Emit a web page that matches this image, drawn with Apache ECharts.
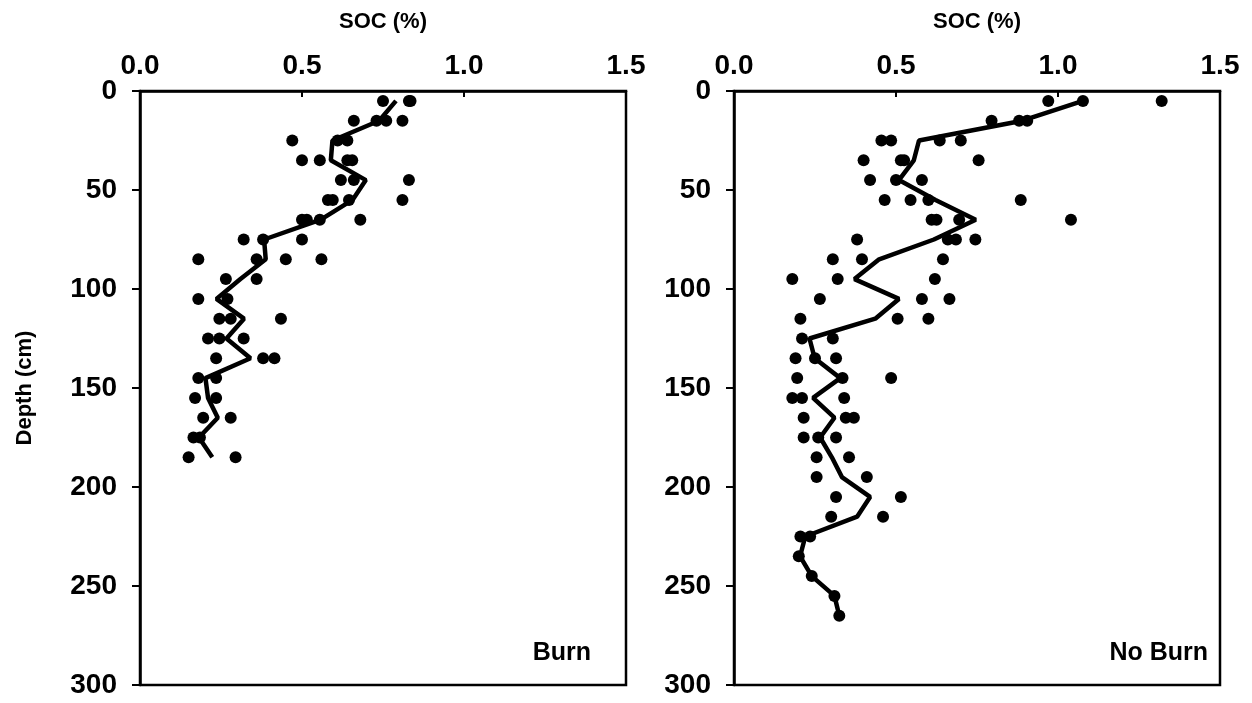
<!DOCTYPE html>
<html>
<head>
<meta charset="utf-8">
<script src="https://cdn.jsdelivr.net/npm/echarts@6/dist/echarts.min.js"></script>
<style>
  html, body { margin: 0; padding: 0; background: #fff; }
  #chart { width: 1252px; height: 703px; }
</style>
</head>
<body>
<div id="chart"></div>
<script>
// Sampling depths (cm) for the burned profile
const burnDepths = [5, 15, 25, 35, 45, 55, 65, 75, 85, 95, 105, 115, 125, 135, 145, 155, 165, 175, 185];
// Individual SOC (%) samples at each burned depth
const burnSoc = [
  [0.75, 0.83, 0.835],
  [0.66, 0.73, 0.76, 0.81],
  [0.47, 0.61, 0.64],
  [0.50, 0.555, 0.64, 0.655],
  [0.62, 0.66, 0.83],
  [0.58, 0.595, 0.645, 0.81],
  [0.50, 0.515, 0.555, 0.68],
  [0.32, 0.38, 0.50],
  [0.18, 0.36, 0.45, 0.56],
  [0.265, 0.36],
  [0.18, 0.27],
  [0.245, 0.28, 0.435],
  [0.21, 0.245, 0.32],
  [0.235, 0.38, 0.415],
  [0.18, 0.235],
  [0.17, 0.235],
  [0.195, 0.28],
  [0.165, 0.185],
  [0.15, 0.295]
];
// Mean SOC (%) profile for the burned site
const burnMean = [0.79, 0.738, 0.594, 0.589, 0.697, 0.656, 0.558, 0.383, 0.388, 0.31,
  0.236, 0.321, 0.267, 0.341, 0.202, 0.21, 0.24, 0.182, 0.223];

// Sampling depths (cm) for the unburned profile
const noBurnDepths = [5, 15, 25, 35, 45, 55, 65, 75, 85, 95, 105, 115, 125, 135, 145, 155,
  165, 175, 185, 195, 205, 215, 225, 235, 245, 255, 265];
// Individual SOC (%) samples at each unburned depth
const noBurnSoc = [
  [0.97, 1.077, 1.32],
  [0.795, 0.88, 0.905],
  [0.455, 0.485, 0.635, 0.70],
  [0.40, 0.515, 0.525, 0.755],
  [0.42, 0.50, 0.58],
  [0.465, 0.545, 0.60, 0.885],
  [0.61, 0.625, 0.695, 1.04],
  [0.38, 0.66, 0.685, 0.745],
  [0.305, 0.395, 0.645],
  [0.18, 0.32, 0.62],
  [0.265, 0.58, 0.665],
  [0.205, 0.505, 0.60],
  [0.21, 0.305],
  [0.19, 0.25, 0.315],
  [0.195, 0.335, 0.485],
  [0.18, 0.21, 0.34],
  [0.215, 0.345, 0.37],
  [0.215, 0.26, 0.315],
  [0.255, 0.355],
  [0.255, 0.41],
  [0.315, 0.515],
  [0.30, 0.46],
  [0.205, 0.235],
  [0.20],
  [0.24],
  [0.31],
  [0.325]
];
// Mean SOC (%) profile for the unburned site
const noBurnMean = [1.077, 0.89, 0.571, 0.555, 0.509, 0.622, 0.746, 0.617, 0.448, 0.372,
  0.509, 0.436, 0.233, 0.249, 0.328, 0.244, 0.31, 0.266, 0.302, 0.333, 0.42, 0.38,
  0.22, 0.204, 0.24, 0.31, 0.325];

const panelLabels = ['Burn', 'No Burn'];
const xTitle = 'SOC (%)';
const yTitle = 'Depth (cm)';

const FONT = '"Liberation Sans", Arial, sans-serif';

function samplePoints(depths, soc) {
  const pts = [];
  depths.forEach((d, i) => soc[i].forEach(v => pts.push([v, d])));
  return pts;
}
function meanPoints(depths, mean) {
  return depths.map((d, i) => [mean[i], d]);
}

const grids = [
  { left: 140, top: 91, width: 486, height: 594 },
  { left: 734, top: 91, width: 486, height: 594 }
];

function xAxisFor(idx) {
  return {
    type: 'value', gridIndex: idx, position: 'top',
    min: 0, max: 1.5, interval: 0.5,
    name: xTitle, nameLocation: 'middle', nameGap: 58,
    nameTextStyle: { fontFamily: FONT, fontWeight: 'bold', fontSize: 22, color: '#000' },
    axisLine: { show: true, lineStyle: { color: '#000', width: 2.5 } },
    axisTick: { show: true, inside: true, length: 6, lineStyle: { color: '#000', width: 2 } },
    axisLabel: { fontFamily: FONT, fontWeight: 'bold', fontSize: 28, color: '#000', margin: 11,
      formatter: v => v.toFixed(1) },
    splitLine: { show: false }
  };
}
function yAxisFor(idx, withName) {
  return {
    type: 'value', gridIndex: idx, inverse: true,
    min: 0, max: 300, interval: 50,
    name: withName ? yTitle : '', nameLocation: 'middle', nameGap: 104,
    nameTextStyle: { fontFamily: FONT, fontWeight: 'bold', fontSize: 22, color: '#000' },
    axisLine: { show: true, lineStyle: { color: '#000', width: 2.5 } },
    axisTick: { show: true, inside: false, length: 8, lineStyle: { color: '#000', width: 2 } },
    axisLabel: { fontFamily: FONT, fontWeight: 'bold', fontSize: 28, color: '#000', margin: 23 },
    splitLine: { show: false }
  };
}

const chart = echarts.init(document.getElementById('chart'), null, { renderer: 'canvas' });

chart.setOption({
  animation: false,
  backgroundColor: '#fff',
  grid: grids.map(g => Object.assign({ show: true, borderColor: '#000', borderWidth: 2.5, backgroundColor: 'transparent' }, g)),
  xAxis: [xAxisFor(0), xAxisFor(1)],
  yAxis: [yAxisFor(0, true), yAxisFor(1, false)],
  series: [
    {
      type: 'scatter', xAxisIndex: 0, yAxisIndex: 0,
      symbol: 'circle', symbolSize: 12, itemStyle: { color: '#000', opacity: 1 },
      data: samplePoints(burnDepths, burnSoc)
    },
    {
      type: 'line', xAxisIndex: 0, yAxisIndex: 0,
      showSymbol: false, lineStyle: { color: '#000', width: 4.5 },
      data: meanPoints(burnDepths, burnMean)
    },
    {
      type: 'scatter', xAxisIndex: 1, yAxisIndex: 1,
      symbol: 'circle', symbolSize: 12, itemStyle: { color: '#000', opacity: 1 },
      data: samplePoints(noBurnDepths, noBurnSoc)
    },
    {
      type: 'line', xAxisIndex: 1, yAxisIndex: 1,
      showSymbol: false, lineStyle: { color: '#000', width: 4.5 },
      data: meanPoints(noBurnDepths, noBurnMean)
    }
  ],
  graphic: [
    {
      type: 'text', x: 591, y: 653,
      style: { text: panelLabels[0], fill: '#000', font: 'bold 25px ' + FONT, align: 'right', verticalAlign: 'middle' }
    },
    {
      type: 'text', x: 1208, y: 653,
      style: { text: panelLabels[1], fill: '#000', font: 'bold 25px ' + FONT, align: 'right', verticalAlign: 'middle' }
    }
  ]
});
</script>
</body>
</html>
